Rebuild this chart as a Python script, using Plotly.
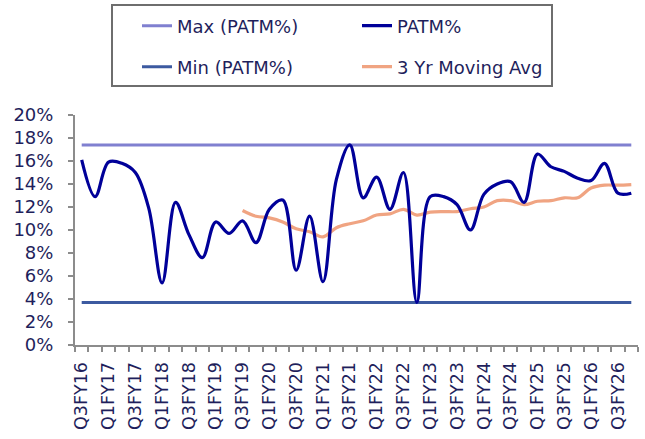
import plotly.graph_objects as go

quarters = [
    "Q3FY16", "Q4FY16",
    "Q1FY17", "Q2FY17", "Q3FY17", "Q4FY17",
    "Q1FY18", "Q2FY18", "Q3FY18", "Q4FY18",
    "Q1FY19", "Q2FY19", "Q3FY19", "Q4FY19",
    "Q1FY20", "Q2FY20", "Q3FY20", "Q4FY20",
    "Q1FY21", "Q2FY21", "Q3FY21", "Q4FY21",
    "Q1FY22", "Q2FY22", "Q3FY22", "Q4FY22",
    "Q1FY23", "Q2FY23", "Q3FY23", "Q4FY23",
    "Q1FY24", "Q2FY24", "Q3FY24", "Q4FY24",
    "Q1FY25", "Q2FY25", "Q3FY25", "Q4FY25",
    "Q1FY26", "Q2FY26", "Q3FY26", "Q4FY26",
]

patm = [
    16.1, 12.9, 15.9, 15.8, 15.0, 11.9, 5.4, 12.4, 9.6, 7.6,
    10.7, 9.7, 10.8, 8.9, 11.8, 12.6, 6.5, 11.2, 5.5, 14.4,
    17.4, 12.8, 14.6, 11.8, 15.0, 3.7, 12.9, 12.9, 12.2, 10.0,
    13.1, 14.0, 14.2, 12.4, 16.6, 15.5, 15.1, 14.5, 14.3, 15.8,
    13.2, 13.2,
]

moving_avg_3yr = [
    None, None, None, None, None, None, None, None, None, None,
    None, None, 11.7, 11.2, 11.05, 10.7, 10.1, 9.85, 9.4, 10.2,
    10.55, 10.8, 11.3, 11.4, 11.8, 11.3, 11.55, 11.6, 11.6, 11.85,
    12.0, 12.55, 12.55, 12.2, 12.5, 12.55, 12.8, 12.8, 13.65, 13.9,
    13.9, 13.95,
]

y_ticks = [0, 2, 4, 6, 8, 10, 12, 14, 16, 18, 20]

max_val = max(patm)
min_val = min(patm)
max_line = [max_val] * len(quarters)
min_line = [min_val] * len(quarters)

idx = list(range(len(quarters)))

TEXT = "#1F1F5C"
FONT = "DejaVu Sans"
AXIS = "#8C8C8C"

W, H = 645, 439
L, R, T, B = 75, 7, 115, 94
PW = W - L - R
PH = H - T - B


def px_to_paper_x(px):
    return (px - L) / PW


def px_to_paper_y(py):
    return (H - B - py) / PH


fig = go.Figure()

fig.add_trace(go.Scatter(
    x=idx, y=max_line, mode="lines", name="Max (PATM%)",
    line=dict(color="#8080D0", width=3), legend="legend", legendrank=1,
    hoverinfo="skip",
))
fig.add_trace(go.Scatter(
    x=idx, y=min_line, mode="lines", name="Min (PATM%)",
    line=dict(color="#3C5AA0", width=3), legend="legend2", legendrank=1,
    hoverinfo="skip",
))
fig.add_trace(go.Scatter(
    x=idx, y=moving_avg_3yr, mode="lines", name="3 Yr Moving Avg",
    line=dict(color="#F0A482", width=3.2, shape="spline", smoothing=1),
    legend="legend2", legendrank=2,
))
fig.add_trace(go.Scatter(
    x=idx, y=patm, mode="lines", name="PATM%",
    line=dict(color="#000099", width=3.2, shape="spline", smoothing=1),
    legend="legend", legendrank=2,
))

legend_common = dict(
    orientation="h",
    xref="container", yref="container",
    xanchor="left", yanchor="middle",
    entrywidth=175, entrywidthmode="pixels",
    font=dict(family=FONT, size=18, color=TEXT),
    bgcolor="rgba(0,0,0,0)",
    borderwidth=0,
    traceorder="normal",
)

fig.update_layout(
    width=W, height=H,
    margin=dict(l=L, r=R, t=T, b=B, autoexpand=False),
    paper_bgcolor="white",
    plot_bgcolor="white",
    font=dict(family=FONT, size=18, color=TEXT),
    showlegend=True,
    legend=dict(**legend_common, x=137 / W, y=1 - 26 / H),
    legend2=dict(**legend_common, x=137 / W, y=1 - 67 / H),
    shapes=[dict(
        type="rect", xref="paper", yref="paper",
        x0=px_to_paper_x(112), x1=px_to_paper_x(552),
        y0=px_to_paper_y(86), y1=px_to_paper_y(5),
        line=dict(color="#6E6E6E", width=2),
        fillcolor="rgba(0,0,0,0)", layer="above",
    )],
)

fig.update_xaxes(
    automargin=False,
    range=[-0.5, len(quarters) - 0.5],
    tickmode="array",
    tickvals=idx[::2],
    ticktext=quarters[::2],
    tickangle=-90,
    ticks="outside", ticklen=8, tickcolor="rgba(0,0,0,0)",
    minor=dict(
        tickmode="array",
        tickvals=[i - 0.5 for i in range(len(quarters) + 1)],
        ticks="outside", ticklen=5, tickcolor=AXIS, tickwidth=1.5,
        showgrid=False,
    ),
    showline=True, linecolor=AXIS, linewidth=2,
    showgrid=False, zeroline=False,
    tickfont=dict(family=FONT, size=17.5, color=TEXT),
)

fig.update_yaxes(
    automargin=False,
    range=[0, 20],
    tickmode="array",
    tickvals=y_ticks,
    ticktext=[f"{v}%" for v in y_ticks],
    ticks="outside", ticklen=5, tickcolor=AXIS, tickwidth=1.5,
    ticklabelstandoff=11,
    showline=True, linecolor=AXIS, linewidth=2,
    showgrid=False, zeroline=False,
    tickfont=dict(family=FONT, size=18, color=TEXT),
)

fig.write_html(
    "out.html",
    config={"displayModeBar": False},
    post_script="document.body.style.margin='0';document.body.style.padding='0';",
)
